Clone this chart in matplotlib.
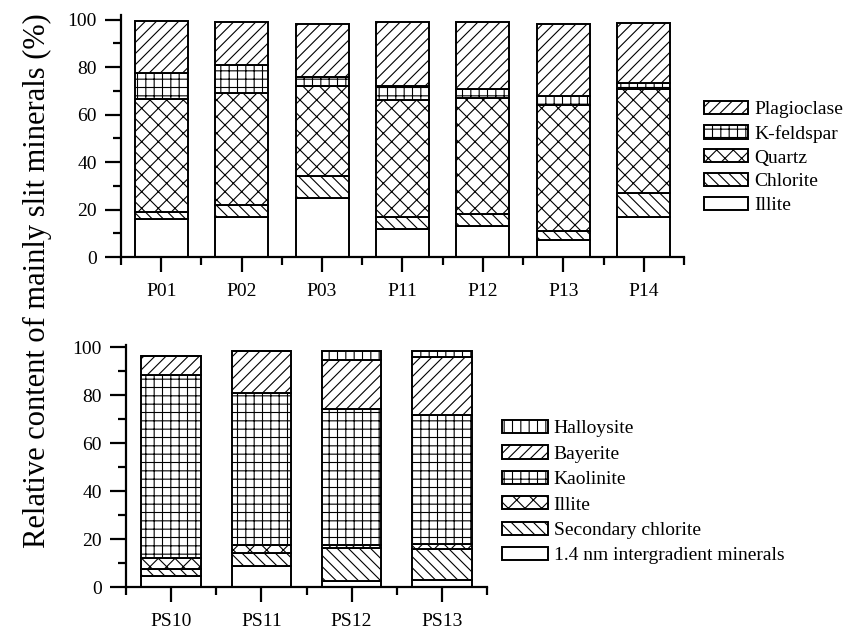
import numpy as np
import matplotlib.pyplot as plt
from matplotlib.ticker import MultipleLocator, FixedLocator

plt.rcParams['font.family'] = ['Liberation Serif', 'DejaVu Serif']
plt.rcParams['hatch.linewidth'] = 0.8

# upper panel: rock samples
samples = ['P01', 'P02', 'P03', 'P11', 'P12', 'P13', 'P14']
illite = [16, 17, 25, 12, 13, 7, 17]
chlorite = [3, 5, 9, 5, 5, 4, 10]
quartz = [47.5, 47, 38, 49, 49, 53, 44]
kfeldspar = [11, 12, 4, 6, 4, 4, 2.5]
plagioclase = [22, 18, 22, 27, 28, 30, 25]

# lower panel: weathered samples
ps_samples = ['PS10', 'PS11', 'PS12', 'PS13']
intergrad = [4.5, 8.7, 2.3, 3.0]
sec_chlorite = [3, 5.4, 13.9, 12.8]
ps_illite = [4.5, 3.5, 1.4, 2.1]
kaolinite = [76.5, 63.4, 56.8, 54]
bayerite = [8, 17.6, 20.3, 24.2]
halloysite = [0, 0, 3.6, 2.2]

top_series = [('Illite', illite, ''), ('Chlorite', chlorite, '\\\\\\'),
              ('Quartz', quartz, 'xx'), ('K-feldspar', kfeldspar, '++'),
              ('Plagioclase', plagioclase, '///')]
bot_series = [('1.4 nm intergradient minerals', intergrad, ''),
              ('Secondary chlorite', sec_chlorite, '\\\\\\'),
              ('Illite', ps_illite, 'xx'), ('Kaolinite', kaolinite, '++'),
              ('Bayerite', bayerite, '///'), ('Halloysite', halloysite, '||')]

fig = plt.figure(figsize=(8.56, 6.3), dpi=100)
ax1 = fig.add_axes([121/856, 1-257/630, (684-121)/856, (257-15)/630])
ax2 = fig.add_axes([126/856, 1-587/630, (487-126)/856, (587-345)/630])


def draw(ax, cats, series, top):
    x = np.arange(len(cats))
    bottom = np.zeros(len(cats))
    handles = []
    for name, vals, hatch in series:
        vals = np.array(vals, dtype=float)
        b = ax.bar(x, vals, 0.66, bottom=bottom, color='white', edgecolor='black',
                   linewidth=1.4, hatch=hatch, label=name)
        handles.append(b)
        bottom += vals
    ax.set_xlim(-0.5, len(cats) - 0.5)
    ax.set_ylim(0, top)
    ax.set_xticks(x)
    ax.set_xticklabels(cats)
    ax.xaxis.set_minor_locator(FixedLocator(np.arange(len(cats) + 1) - 0.5))
    ax.yaxis.set_major_locator(MultipleLocator(20))
    ax.yaxis.set_minor_locator(MultipleLocator(10))
    for s in ['top', 'right']:
        ax.spines[s].set_visible(False)
    for s in ['left', 'bottom']:
        ax.spines[s].set_linewidth(1.6)
    ax.tick_params(which='major', direction='out', length=11.5, width=1.6,
                   labelsize=14, pad=6)
    ax.tick_params(which='minor', direction='out', length=6, width=1.6)
    ax.tick_params(axis='x', which='major', length=11, pad=8)
    return handles


h1 = draw(ax1, samples, top_series, 102)
h2 = draw(ax2, ps_samples, bot_series, 101)

fig.legend(h1[::-1], [s[0] for s in top_series][::-1], loc='upper left',
           bbox_to_anchor=(704/856, 1-101/630), frameon=False, fontsize=14,
           handlelength=2.27, handleheight=0.67, handletextpad=0.3,
           labelspacing=0.33, borderpad=0, borderaxespad=0)
fig.legend(h2[::-1], [s[0] for s in bot_series][::-1], loc='upper left',
           bbox_to_anchor=(502/856, 1-420/630), frameon=False, fontsize=14,
           handlelength=2.35, handleheight=0.67, handletextpad=0.3,
           labelspacing=0.41, borderpad=0, borderaxespad=0)

fig.text(37/856, 1-281/630, 'Relative content of mainly slit minerals (%)',
         rotation=90, ha='center', va='center', fontsize=22)

fig.savefig('out.png', dpi=100)
